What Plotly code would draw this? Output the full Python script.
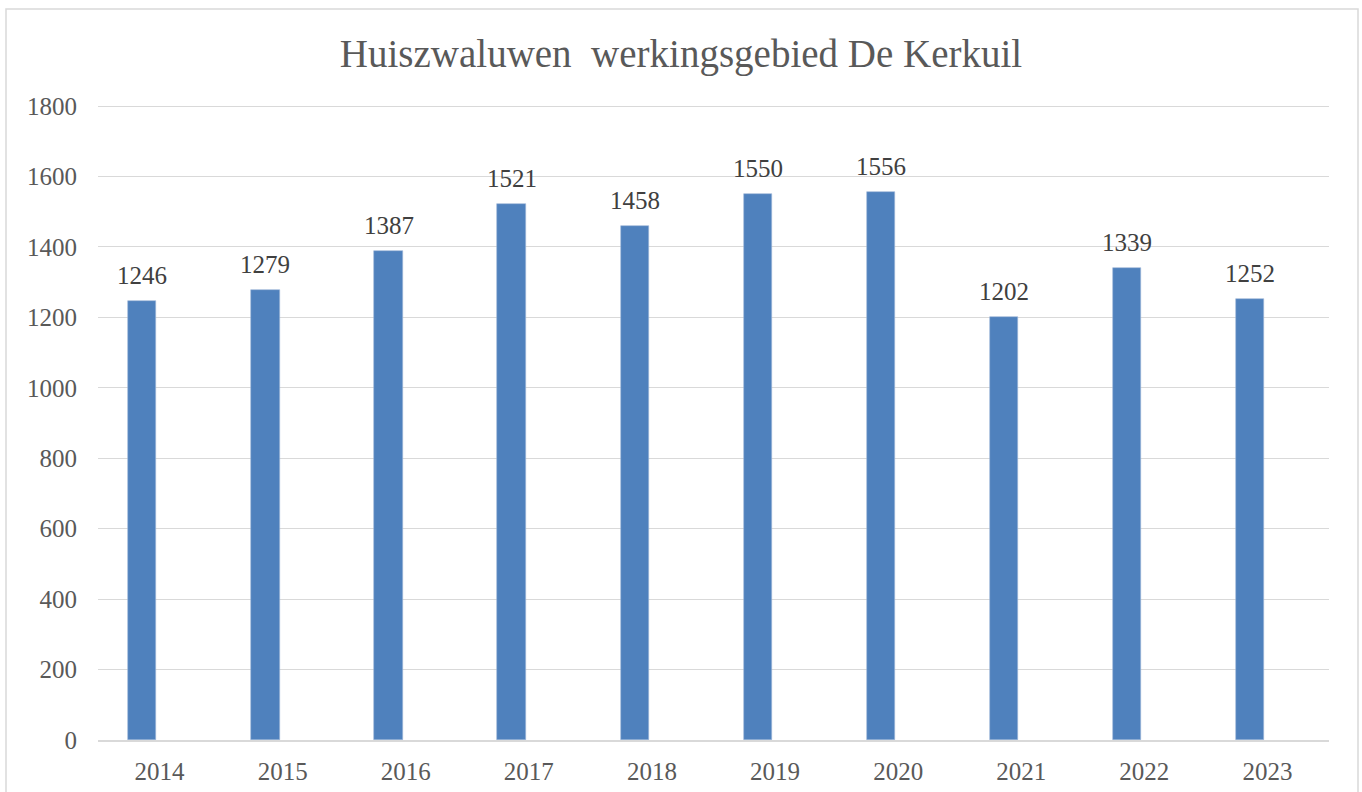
import plotly.graph_objects as go

years = ["2014", "2015", "2016", "2017", "2018", "2019", "2020", "2021", "2022", "2023"]
counts = [1246, 1279, 1387, 1521, 1458, 1550, 1556, 1202, 1339, 1252]
y_ticks = [0, 200, 400, 600, 800, 1000, 1200, 1400, 1600, 1800]

W, H = 1362, 792
L, R, T, B = 98, 33, 104, 52
pw, ph = W - L - R, H - T - B
y_max = 1800 * ph / 634.0

def px_x(px):
    return (px - L) / pw

def px_y(py):
    return (H - B - py) / ph

BAR_W, BAR_OFF = 0.23, -0.255
label_pos = BAR_OFF + BAR_W / 2

fig = go.Figure()
fig.add_trace(go.Bar(
    x=years, y=counts,
    width=BAR_W, offset=BAR_OFF,
    marker=dict(color="#4F81BD", line=dict(color="#9DB7D9", width=0.6)),
    hoverinfo="x+y",
))

for i, c in enumerate(counts):
    fig.add_annotation(
        x=i + label_pos, y=c, text=str(c), showarrow=False,
        xref="x", yref="y",
        xanchor="center", yanchor="bottom", yshift=10,
        font=dict(family="Liberation Serif", size=25, color="#404040"),
    )

fig.update_layout(
    width=W, height=H,
    margin=dict(l=L, r=R, t=T, b=B),
    paper_bgcolor="white", plot_bgcolor="white",
    showlegend=False,
    title=dict(text="Huiszwaluwen&nbsp; werkingsgebied De Kerkuil",
               x=0.5, xref="container", xanchor="center",
               y=1 - 53 / H, yanchor="middle",
               font=dict(family="Liberation Serif", size=39, color="#595959")),
    font=dict(family="Liberation Serif", size=25, color="#595959"),
    bargap=0,
    shapes=[dict(type="rect", xref="paper", yref="paper",
                 x0=px_x(6), x1=px_x(1358), y0=px_y(805), y1=px_y(9),
                 line=dict(color="#D9D9D9", width=1.5), fillcolor="rgba(0,0,0,0)",
                 layer="below")],
)
fig.update_xaxes(
    type="category", range=[-0.5, len(years) - 0.5],
    showgrid=False, showline=True, linecolor="#D9D9D9", linewidth=1.5,
    ticks="", tickfont=dict(family="Liberation Serif", size=25, color="#595959"),
    ticklabelstandoff=8, automargin=False,
)
fig.update_yaxes(
    range=[0, y_max], tickvals=y_ticks, showgrid=True, gridcolor="#D9D9D9", gridwidth=1.3,
    zeroline=False, showline=False, ticks="",
    tickfont=dict(family="Liberation Serif", size=25, color="#595959"),
    ticklabelstandoff=20, automargin=False,
)

fig.write_html(
    "out.html",
    config={"displayModeBar": False},
    post_script="document.body.style.margin='0';document.body.style.overflow='hidden';",
)
